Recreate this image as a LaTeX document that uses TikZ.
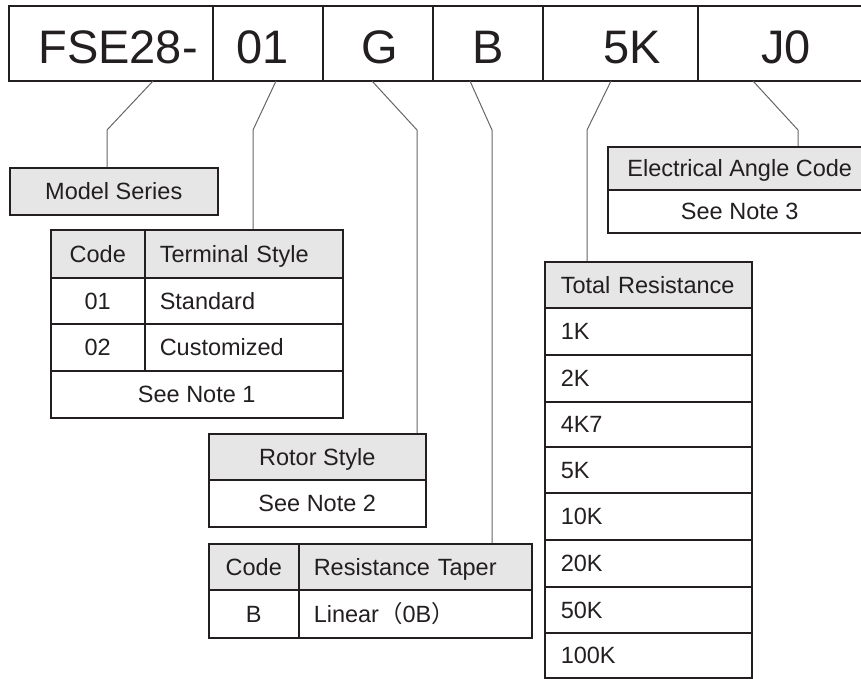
\documentclass[tikz,border=0pt]{standalone}
\usepackage{fontspec}
\setmainfont{Liberation Sans}
\newfontfamily\cjk{Noto Sans CJK SC}
\usepackage{tikz}
\usetikzlibrary{calc}
\definecolor{boxcol}{HTML}{231F20}
\definecolor{headgray}{HTML}{E6E6E6}
\definecolor{leadcol}{HTML}{666666}
\newcommand{\tabfont}{\fontsize{23.5}{28}\selectfont}
\newcommand{\barfont}{\fontsize{47}{56}\selectfont}
\tikzset{
	lft/.style={align=left, text width=#1}
}
\tikzstyle{cell}=[draw=boxcol, line width=1.5pt, anchor=north west, inner sep=0pt, text height=17pt, text depth=0pt, font=\tabfont, text=boxcol]
\tikzstyle{head}=[cell, fill=headgray]
\tikzstyle{barline}=[draw=boxcol, line width=1.5pt]
\tikzstyle{code}=[anchor=base, inner sep=0pt, font=\barfont, text=boxcol]
\tikzstyle{leader}=[draw=leadcol, line width=1pt]
\newcommand{\tabcell}[6]{
	\node[#1, minimum width=#4pt, minimum height=#5pt] (#2) at #3 {#6};
}

\begin{document}
\begin{tikzpicture}[x=1pt, y=-1pt]
	\clip (0,0) rectangle (861,678);
	% code bar
	\draw[barline] (9,6) rectangle (880,81);
	\draw[barline] (213,6) -- (213,81);
	\draw[barline] (323,6) -- (323,81);
	\draw[barline] (433,6) -- (433,81);
	\draw[barline] (543,6) -- (543,81);
	\draw[barline] (698,6) -- (698,81);
	\node[code] (kfse) at (118,63) {FSE28-};
	\node[code] (kterm) at (263,63) {01};
	\node[code] (krot) at (380,63) {G};
	\node[code] (ktap) at (488,63) {B};
	\node[code] (kres) at (632,63) {5K};
	\node[code] (kang) at (786,63) {J0};
	% model series
	\tabcell{head}{ms}{(9,167)}{208}{47}{Model Series};
	% terminal style
	\tabcell{head}{tcode}{(50,229)}{94}{48}{Code};
	\tabcell{head, lft=168pt}{tstyle}{(144,229)}{198}{48}{Terminal Style};
	\tabcell{cell}{t01}{(50,277)}{94}{46}{01};
	\tabcell{cell, lft=168pt}{tstd}{(144,277)}{198}{46}{Standard};
	\tabcell{cell}{t02}{(50,323)}{94}{47}{02};
	\tabcell{cell, lft=168pt}{tcus}{(144,323)}{198}{47}{Customized};
	\tabcell{cell}{tnote}{(50,370)}{292}{47}{See Note 1};
	% rotor style
	\tabcell{head}{rs}{(208,433)}{217}{46}{Rotor Style};
	\tabcell{cell}{rnote}{(208,479)}{217}{47}{See Note 2};
	% resistance taper
	\tabcell{head}{pcode}{(208,543)}{90}{46}{Code};
	\tabcell{head, lft=203pt}{ptaper}{(298,543)}{233}{46}{Resistance Taper};
	\tabcell{cell}{pb}{(208,589)}{90}{48}{B};
	\tabcell{cell, lft=203pt}{plin}{(298,589)}{233}{48}{Linear{\cjk （}0B{\cjk ）}};
	% total resistance
	\tabcell{head, lft=175pt}{trh}{(544,261)}{207}{46}{Total Resistance};
	\tabcell{cell, lft=175pt}{r1}{(544,307)}{207}{47}{1K};
	\tabcell{cell, lft=175pt}{r2}{(544,354)}{207}{47}{2K};
	\tabcell{cell, lft=175pt}{r3}{(544,401)}{207}{45}{4K7};
	\tabcell{cell, lft=175pt}{r4}{(544,446)}{207}{46}{5K};
	\tabcell{cell, lft=175pt}{r5}{(544,492)}{207}{47}{10K};
	\tabcell{cell, lft=175pt}{r6}{(544,539)}{207}{47}{20K};
	\tabcell{cell, lft=175pt}{r7}{(544,586)}{207}{46}{50K};
	\tabcell{cell, lft=175pt}{r8}{(544,632)}{207}{45}{100K};
	% electrical angle
	\tabcell{head}{eac}{(607,146)}{264}{43}{Electrical Angle Code};
	\tabcell{cell}{enote}{(607,189)}{264}{43}{See Note 3};
	% leaders
	\coordinate (f1) at (153,81); \coordinate (k1) at (107,130);
	\coordinate (f2) at (276,81); \coordinate (k2) at (253,130);
	\coordinate (f3) at (372,81); \coordinate (k3) at (417,130);
	\coordinate (f4) at (470,81); \coordinate (k4) at (492,130);
	\coordinate (f5) at (611,81); \coordinate (k5) at (587,130);
	\coordinate (f6) at (753,81); \coordinate (k6) at (798,130);
	\draw[leader] (f1) -- (k1) -- (k1 |- ms.north);
	\draw[leader] (f2) -- (k2) -- (k2 |- tstyle.north);
	\draw[leader] (f3) -- (k3) -- (k3 |- rs.north);
	\draw[leader] (f4) -- (k4) -- (k4 |- ptaper.north);
	\draw[leader] (f5) -- (k5) -- (k5 |- trh.north);
	\draw[leader] (f6) -- (k6) -- (k6 |- eac.north);
\end{tikzpicture}
\end{document}
